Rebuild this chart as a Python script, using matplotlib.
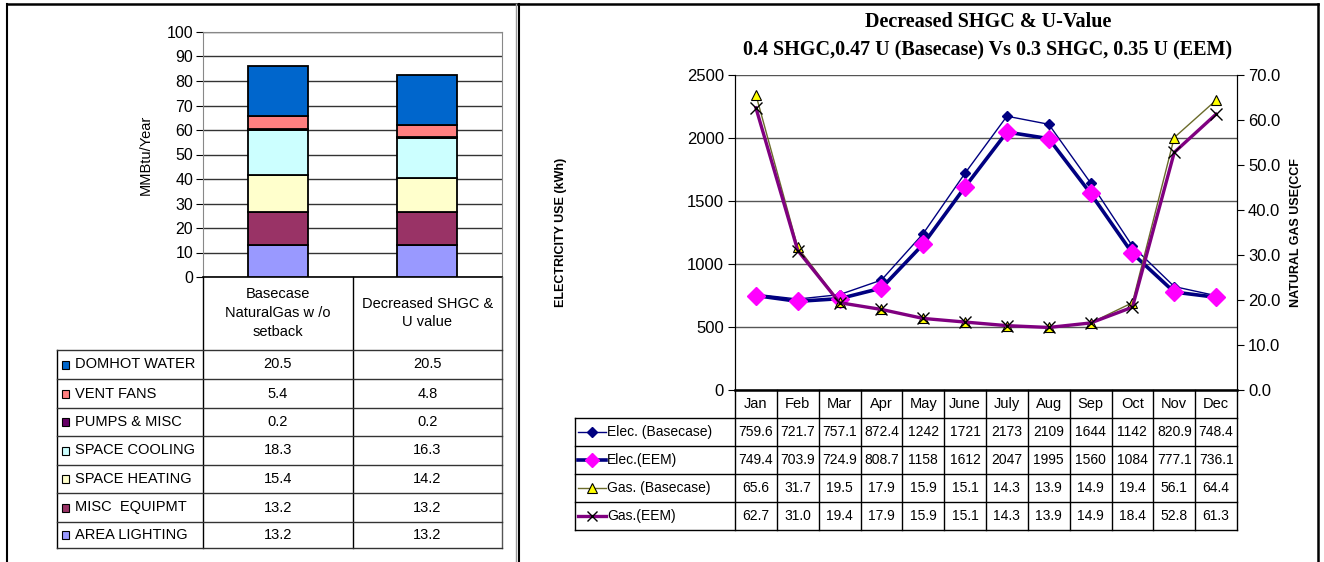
"""Energy use breakdown and monthly electricity / gas comparison."""

import matplotlib

matplotlib.use("Agg")
import matplotlib.pyplot as plt
from matplotlib.lines import Line2D
from matplotlib.patches import Rectangle
from matplotlib.transforms import blended_transform_factory

# ---- left panel data ----
CASES = ["Basecase\nNaturalGas w /o\nsetback", "Decreased SHGC &\nU value"]
END_USES = ["AREA LIGHTING", "MISC  EQUIPMT", "SPACE HEATING", "SPACE COOLING",
            "PUMPS & MISC", "VENT FANS", "DOMHOT WATER"]
USE_COLORS = ["#9999FF", "#993366", "#FFFFCC", "#CCFFFF", "#660066", "#FF8080", "#0066CC"]
BASECASE_USE = [13.2, 13.2, 15.4, 18.3, 0.2, 5.4, 20.5]
EEM_USE = [13.2, 13.2, 14.2, 16.3, 0.2, 4.8, 20.5]

# ---- right panel data ----
MONTHS = ["Jan", "Feb", "Mar", "Apr", "May", "June", "July", "Aug", "Sep", "Oct", "Nov", "Dec"]
ELEC_BASE = [759.6, 721.7, 757.1, 872.4, 1242, 1721, 2173, 2109, 1644, 1142, 820.9, 748.4]
ELEC_EEM = [749.4, 703.9, 724.9, 808.7, 1158, 1612, 2047, 1995, 1560, 1084, 777.1, 736.1]
GAS_BASE = [65.6, 31.7, 19.5, 17.9, 15.9, 15.1, 14.3, 13.9, 14.9, 19.4, 56.1, 64.4]
GAS_EEM = [62.7, 31.0, 19.4, 17.9, 15.9, 15.1, 14.3, 13.9, 14.9, 18.4, 52.8, 61.3]

W, H = 1324, 562
SANS = ["Liberation Sans", "DejaVu Sans"]
SERIF = ["Liberation Serif", "DejaVu Serif"]


def fx(x):
    return x / W


def fy(y):
    return 1 - y / H


def hline(fig, x0, x1, y, color="black", lw=1.0, transform=None):
    tr = transform or fig.transFigure
    xs = [x0, x1] if transform else [fx(x0), fx(x1)]
    fig.add_artist(Line2D(xs, [fy(y), fy(y)], transform=tr, color=color, lw=lw))


def vline(fig, x, y0, y1, color="black", lw=1.0, transform=None):
    tr = transform or fig.transFigure
    xs = [x, x] if transform else [fx(x), fx(x)]
    fig.add_artist(Line2D(xs, [fy(y0), fy(y1)], transform=tr, color=color, lw=lw))


plt.rcParams["font.family"] = SANS
fig = plt.figure(figsize=(W / 100, H / 100), dpi=100)

# outer frames
hline(fig, 7, 1318, 4, lw=1.8)
vline(fig, 7, 4, 562, lw=1.5)
vline(fig, 516, 4, 562, color="#999999", lw=1.0)
vline(fig, 518.5, 4, 562, lw=1.5)
vline(fig, 1318, 4, 562, lw=1.8)

# ================= left: stacked bars =================
axl = fig.add_axes([fx(203), fy(277), fx(502) - fx(203), fy(32) - fy(277)])
xpos = [0.5, 1.5]
bottoms = [0.0, 0.0]
for i, name in enumerate(END_USES):
    vals = [BASECASE_USE[i], EEM_USE[i]]
    axl.bar(xpos, vals, width=0.4, bottom=bottoms, color=USE_COLORS[i],
            edgecolor="black", linewidth=1.3, zorder=3)
    bottoms = [b + v for b, v in zip(bottoms, vals)]
axl.set_xlim(0, 2)
axl.set_ylim(0, 100)
axl.set_yticks(range(0, 101, 10))
axl.set_xticks([])
axl.grid(axis="y", color="#333333", lw=1.0, zorder=0)
axl.tick_params(axis="y", direction="out", length=5, labelsize=11.5, pad=2)
for s in ["top", "right", "left"]:
    axl.spines[s].set_color("#888888")
axl.spines["bottom"].set_linewidth(1.2)
axl.set_ylabel("MMBtu/Year", fontsize=10.5, labelpad=10)

# left data table
trl = blended_transform_factory(axl.transData, fig.transFigure)
row_edges = [350, 379, 408, 436, 465, 493, 522, 548]
for x in [0, 1, 2]:
    vline(fig, x, 277, 548, color="black" if x < 2 else "#555555", lw=1.0, transform=trl)
vline(fig, 57, 350, 548, lw=1.0)
for y in row_edges:
    hline(fig, 57, 502, y, color="#333333", lw=1.0)
for j, case in enumerate(CASES):
    fig.text(j + 0.5, fy(313), case, transform=trl, ha="center", va="center",
             fontsize=10.5, linespacing=1.45)
table_rows = list(range(len(END_USES)))[::-1]
for r, i in enumerate(table_rows):
    yc = (row_edges[r] + row_edges[r + 1]) / 2
    fig.add_artist(Rectangle((fx(62), fy(yc + 4)), fx(7), fy(0) - fy(8),
                             transform=fig.transFigure, facecolor=USE_COLORS[i],
                             edgecolor="black", lw=0.8))
    fig.text(fx(75), fy(yc), END_USES[i], ha="left", va="center", fontsize=10.5)
    for j, vals in enumerate([BASECASE_USE, EEM_USE]):
        fig.text(j + 0.5, fy(yc), f"{vals[i]:.1f}", transform=trl,
                 ha="center", va="center", fontsize=10.5)

# ================= right: monthly lines =================
axr = fig.add_axes([fx(735), fy(390), fx(1237) - fx(735), fy(75) - fy(390)])
axg = axr.twinx()
xm = [i + 0.5 for i in range(len(MONTHS))]

styles = [
    dict(color="#000080", lw=1.0, marker="D", ms=5, mfc="#000080", mec="#000080"),
    dict(color="#000080", lw=2.6, marker="D", ms=9, mfc="#FF00FF", mec="#FF00FF"),
    dict(color="#6b6b2a", lw=1.0, marker="^", ms=7, mfc="#FFFF00", mec="black", mew=0.8),
    dict(color="#800080", lw=2.4, marker="x", ms=9, mec="black", mew=1.0),
]
axr.plot(xm, ELEC_BASE, zorder=3, **styles[0])
axr.plot(xm, ELEC_EEM, zorder=4, **styles[1])
axg.plot(xm, GAS_BASE, zorder=3, **styles[2])
axg.plot(xm, GAS_EEM, zorder=4, **styles[3])

axr.set_xlim(0, 12)
axr.set_ylim(0, 2500)
axr.set_yticks(range(0, 2501, 500))
axr.set_xticks([])
axr.grid(axis="y", color="#555555", lw=1.0)
axr.set_axisbelow(True)
axg.set_ylim(0, 70)
axg.set_yticks(range(0, 71, 10))
axg.set_yticklabels([f"{v:.1f}" for v in range(0, 71, 10)])
for a in (axr, axg):
    a.spines["top"].set_visible(False)
    a.tick_params(axis="y", direction="out", length=5, labelsize=12, pad=3)
axr.spines["bottom"].set_linewidth(1.8)
axr.set_ylabel("ELECTRICITY USE (kWh)", fontsize=9, fontweight="bold", labelpad=86)
axg.set_ylabel("NATURAL GAS USE(CCF", fontsize=9, fontweight="bold", labelpad=7)

fig.text(fx(988), fy(22), "Decreased SHGC & U-Value", ha="center", va="center",
         fontsize=14.5, fontweight="bold", family=SERIF)
fig.text(fx(988), fy(50), "0.4 SHGC,0.47 U (Basecase) Vs 0.3 SHGC, 0.35 U (EEM)",
         ha="center", va="center", fontsize=14.5, fontweight="bold", family=SERIF)

# right data table
trr = blended_transform_factory(axr.transData, fig.transFigure)
rrows = [418, 446, 474, 502, 530]
for i in range(len(MONTHS) + 1):
    vline(fig, i, 390, 530, lw=1.0, transform=trr)
vline(fig, 575, 418, 530, lw=1.0)
for y in rrows:
    hline(fig, 575, 1237, y, lw=1.0)
for i, m in enumerate(MONTHS):
    fig.text(i + 0.5, fy(404), m, transform=trr, ha="center", va="center", fontsize=10.5)

names = ["Elec. (Basecase)", "Elec.(EEM)", "Gas. (Basecase)", "Gas.(EEM)"]
for r, (name, vals) in enumerate(zip(names, [ELEC_BASE, ELEC_EEM, GAS_BASE, GAS_EEM])):
    yc = (rrows[r] + rrows[r + 1]) / 2
    st = dict(styles[r])
    key_ms = min(st.pop("ms"), 7)
    marker = st.pop("marker")
    line_style = {k: v for k, v in st.items() if k in ("color", "lw")}
    mark_style = {k: v for k, v in st.items() if k not in ("color", "lw")}
    fig.add_artist(Line2D([fx(578), fx(606)], [fy(yc), fy(yc)], transform=fig.transFigure,
                          **line_style))
    fig.add_artist(Line2D([fx(592)], [fy(yc)], transform=fig.transFigure, ls="none",
                          marker=marker, ms=key_ms, **mark_style))
    fig.text(fx(607), fy(yc), name, ha="left", va="center", fontsize=10)
    for i, v in enumerate(vals):
        if r < 2:
            s = f"{v:.0f}" if v >= 1000 else f"{v:.1f}"
        else:
            s = f"{v:.1f}"
        fig.text(i + 0.5, fy(yc), s, transform=trr, ha="center", va="center", fontsize=10)

fig.savefig("out.png", dpi=100)
